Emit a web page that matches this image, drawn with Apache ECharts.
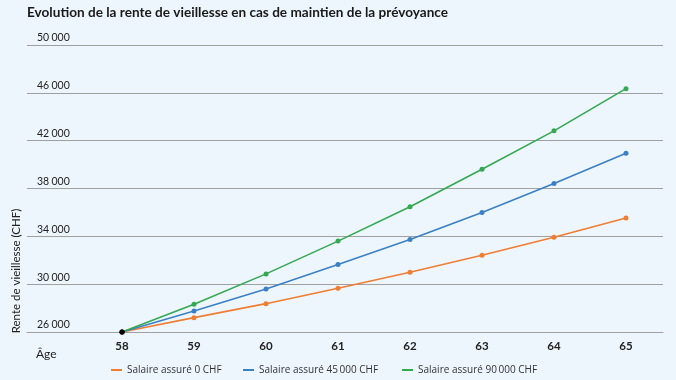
<!DOCTYPE html>
<html>
<head>
<meta charset="utf-8">
<script src="https://cdn.jsdelivr.net/npm/echarts@6/dist/echarts.min.js"></script>
<style>
html,body{margin:0;padding:0;background:#eef6fd;}
#chart{width:676px;height:380px;}
</style>
</head>
<body>
<div id="chart"></div>
<script>
var title = 'Evolution de la rente de vieillesse en cas de maintien de la prévoyance';
var ages = [58, 59, 60, 61, 62, 63, 64, 65];
var seriesNames = ['Salaire assuré 0 CHF', 'Salaire assuré 45\u2009000 CHF', 'Salaire assuré 90\u2009000 CHF'];
var salary0 = [26000, 27200, 28370, 29660, 31000, 32420, 33930, 35530];
var salary45000 = [26000, 27760, 29600, 31640, 33740, 36000, 38410, 40950];
var salary90000 = [26000, 28315, 30860, 33600, 36480, 39610, 42820, 46350];
var yTicks = [26000, 30000, 34000, 38000, 42000, 46000, 50000];
var colors = ['#ef7d32', '#3a80c4', '#34a853'];
var FONT = 'Lato';
var legendLefts = [111, 243, 402];

function pairs(vals) {
  return ages.map(function (a, i) {
    var item = { value: [a, vals[i]] };
    if (i === 0) { item.itemStyle = { color: '#000' }; }
    return item;
  });
}
function fmt(v) {
  var s = String(v);
  return s.slice(0, s.length - 3) + '{s| }' + s.slice(-3);
}

var chart = echarts.init(document.getElementById('chart'), null, { renderer: 'canvas' });
var allSeries = [salary0, salary45000, salary90000];
chart.setOption({
  backgroundColor: '#eef6fd',
  animation: false,
  title: {
    text: title, left: 27, top: 6, padding: 0,
    textStyle: { fontFamily: FONT, fontSize: 13.6, fontWeight: 'bold', color: '#1a1a1a' }
  },
  grid: { left: 27, right: 13, top: 45, bottom: 48, containLabel: false },
  legend: seriesNames.map(function (n, k) {
    return {
      left: legendLefts[k], top: 365, padding: 0, itemWidth: 11, itemHeight: 2, icon: 'rect',
      data: [n],
      textStyle: { fontFamily: 'Open Sans', fontSize: 10, color: '#333' }
    };
  }),
  xAxis: {
    type: 'value', min: 56.68, max: 65.514,
    axisLine: { show: true, lineStyle: { color: '#a0a0a0', width: 1 } },
    axisTick: { show: false },
    splitLine: { show: false },
    axisLabel: {
      customValues: ages, margin: 8,
      fontFamily: FONT, fontSize: 11.5, fontWeight: 'bold', color: '#222',
      formatter: function (v) { return String(Math.round(v)); }
    }
  },
  yAxis: {
    type: 'value', min: yTicks[0], max: yTicks[yTicks.length - 1], interval: 4000,
    axisLine: { show: false }, axisTick: { show: false },
    splitLine: { show: true, lineStyle: { color: '#a0a0a0', width: 1 } },
    axisLabel: {
      inside: true, margin: 10, align: 'left', verticalAlign: 'bottom', lineHeight: 14,
      fontFamily: FONT, fontSize: 10.5, color: '#222',
      formatter: function (v) { return fmt(v); },
      rich: { s: { fontFamily: FONT, fontSize: 9, lineHeight: 14, verticalAlign: 'bottom' } }
    }
  },
  graphic: [
    { type: 'text', left: 36, top: 348,
      style: { text: 'Âge', fontFamily: FONT, fontSize: 12, fill: '#222' } },
    { type: 'text', x: 16, y: 271, rotation: Math.PI / 2,
      style: { text: 'Rente de vieillesse (CHF)', fontFamily: FONT, fontSize: 11.5, fill: '#222',
               align: 'center', verticalAlign: 'middle' } }
  ],
  series: allSeries.map(function (vals, k) {
    return {
      name: seriesNames[k], type: 'line', data: pairs(vals),
      color: colors[k], symbol: 'circle', symbolSize: 5, showSymbol: true,
      lineStyle: { width: 1.6, color: colors[k] }, itemStyle: { color: colors[k] }
    };
  })
});
</script>
</body>
</html>
